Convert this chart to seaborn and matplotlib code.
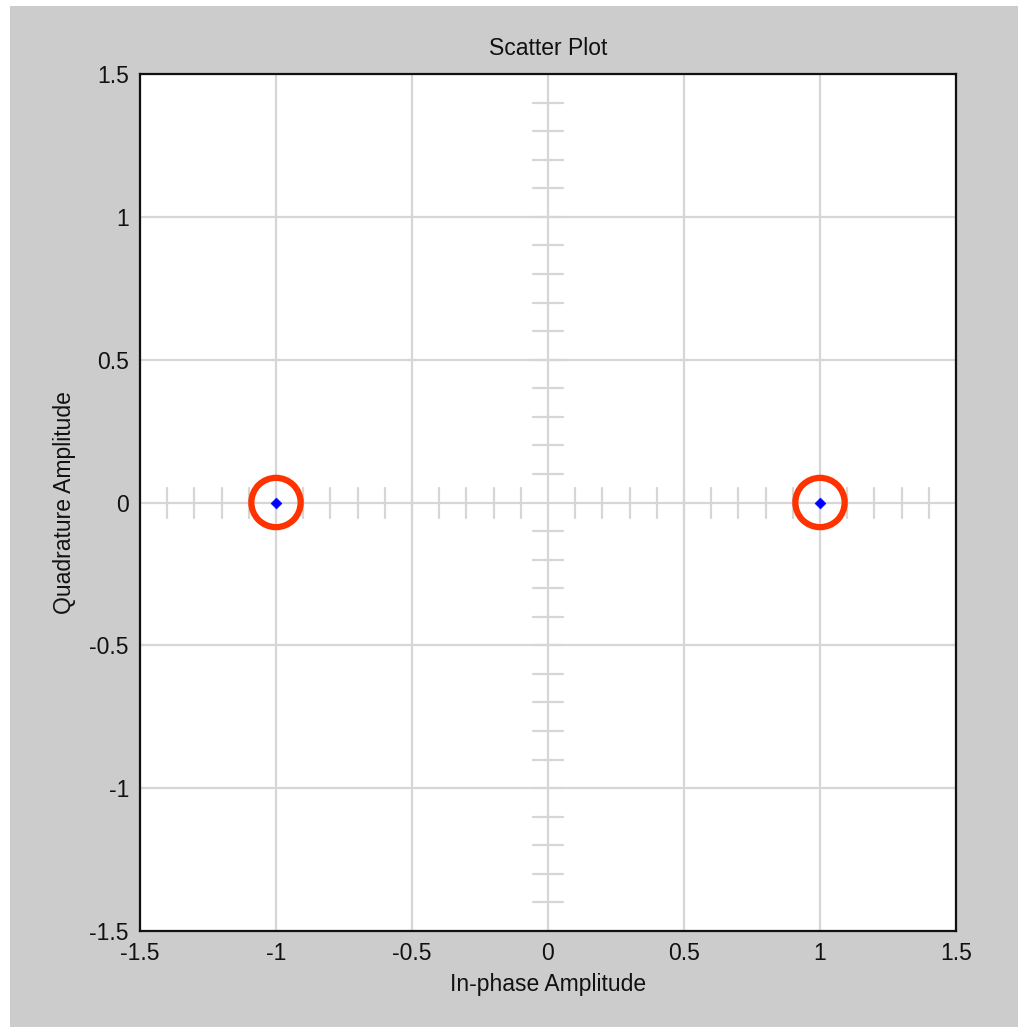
import matplotlib
matplotlib.use("Agg")
import matplotlib.pyplot as plt
import matplotlib.patches as mpatches
import seaborn as sns
import pandas as pd

# ---- data ----
in_phase = [-1.0, 1.0]
quadrature = [0.0, 0.0]
tick_values = [-1.5, -1.0, -0.5, 0.0, 0.5, 1.0, 1.5]
tick_labels = ["-1.5", "-1", "-0.5", "0", "0.5", "1", "1.5"]
cross_ticks = [-1.4, -1.3, -1.2, -1.1, -1.0, -0.9, -0.8, -0.7, -0.6, -0.5,
               -0.4, -0.3, -0.2, -0.1, 0.1, 0.2, 0.3, 0.4, 0.5, 0.6, 0.7,
               0.8, 0.9, 1.0, 1.1, 1.2, 1.3, 1.4]
title = "Scatter Plot"
xlabel = "In-phase Amplitude"
ylabel = "Quadrature Amplitude"

df = pd.DataFrame({"I": in_phase, "Q": quadrature})

sns.set_style("white")
plt.rcParams["font.family"] = ["Liberation Sans", "DejaVu Sans"]

W, H = 1018, 1027
fig = plt.figure(figsize=(W / 100, H / 100), dpi=100, facecolor="white")
# gray panel (white strip at left and top)
fig.patches.append(mpatches.Rectangle((10 / W, 0), 1 - 10 / W, 1 - 6 / H,
                                      transform=fig.transFigure,
                                      facecolor="#cccccc", edgecolor="none",
                                      zorder=-10))

ax = fig.add_axes([140 / W, 1 - 931 / H, (956 - 140) / W, (931 - 74) / H])
ax.set_facecolor("white")
ax.set_xlim(-1.5, 1.5)
ax.set_ylim(-1.5, 1.5)

gridc = "#d6d6d6"
for v in tick_values:
    ax.axvline(v, color=gridc, lw=1.6, zorder=1)
    ax.axhline(v, color=gridc, lw=1.6, zorder=1)

# crosshair tick marks
px_x = 816 / 3.0
px_y = 857 / 3.0
hx = 15 / px_y  # half-length in y data units for ticks on the horizontal axis
hy = 15 / px_x
for t in cross_ticks:
    ax.plot([t, t], [-hx, hx], color=gridc, lw=1.6, zorder=1)
    ax.plot([-hy, hy], [t, t], color=gridc, lw=1.6, zorder=1)

sns.scatterplot(data=df, x="I", y="Q", ax=ax, marker="D", s=30,
                color="#0000ff", edgecolor="#0000ff", linewidth=0.5, zorder=4)
ax.scatter(df["I"], df["Q"], s=35.5 ** 2, facecolors="none",
           edgecolors="#ff3300", linewidths=4.5, zorder=3)

ax.set_xticks(tick_values)
ax.set_xticklabels(tick_labels)
ax.set_yticks(tick_values)
ax.set_yticklabels(tick_labels)
ax.tick_params(axis="both", length=0, labelsize=16.5, colors="#111111", pad=8)
ax.grid(False)

for s in ax.spines.values():
    s.set_visible(True)
    s.set_color("#111111")
    s.set_linewidth(1.6)

ax.set_title(title, fontsize=16.5, color="#111111", pad=14)
ax.set_xlabel(xlabel, fontsize=16.5, color="#111111")
ax.set_ylabel(ylabel, fontsize=16.5, color="#111111")
ax.xaxis.label.set_va("center")
ax.yaxis.label.set_va("center")
ax.xaxis.set_label_coords(0.5, (931 - 985) / 857)
ax.yaxis.set_label_coords((65 - 140) / 816, 0.5)

fig.savefig("out.png", dpi=100, facecolor=fig.get_facecolor())
